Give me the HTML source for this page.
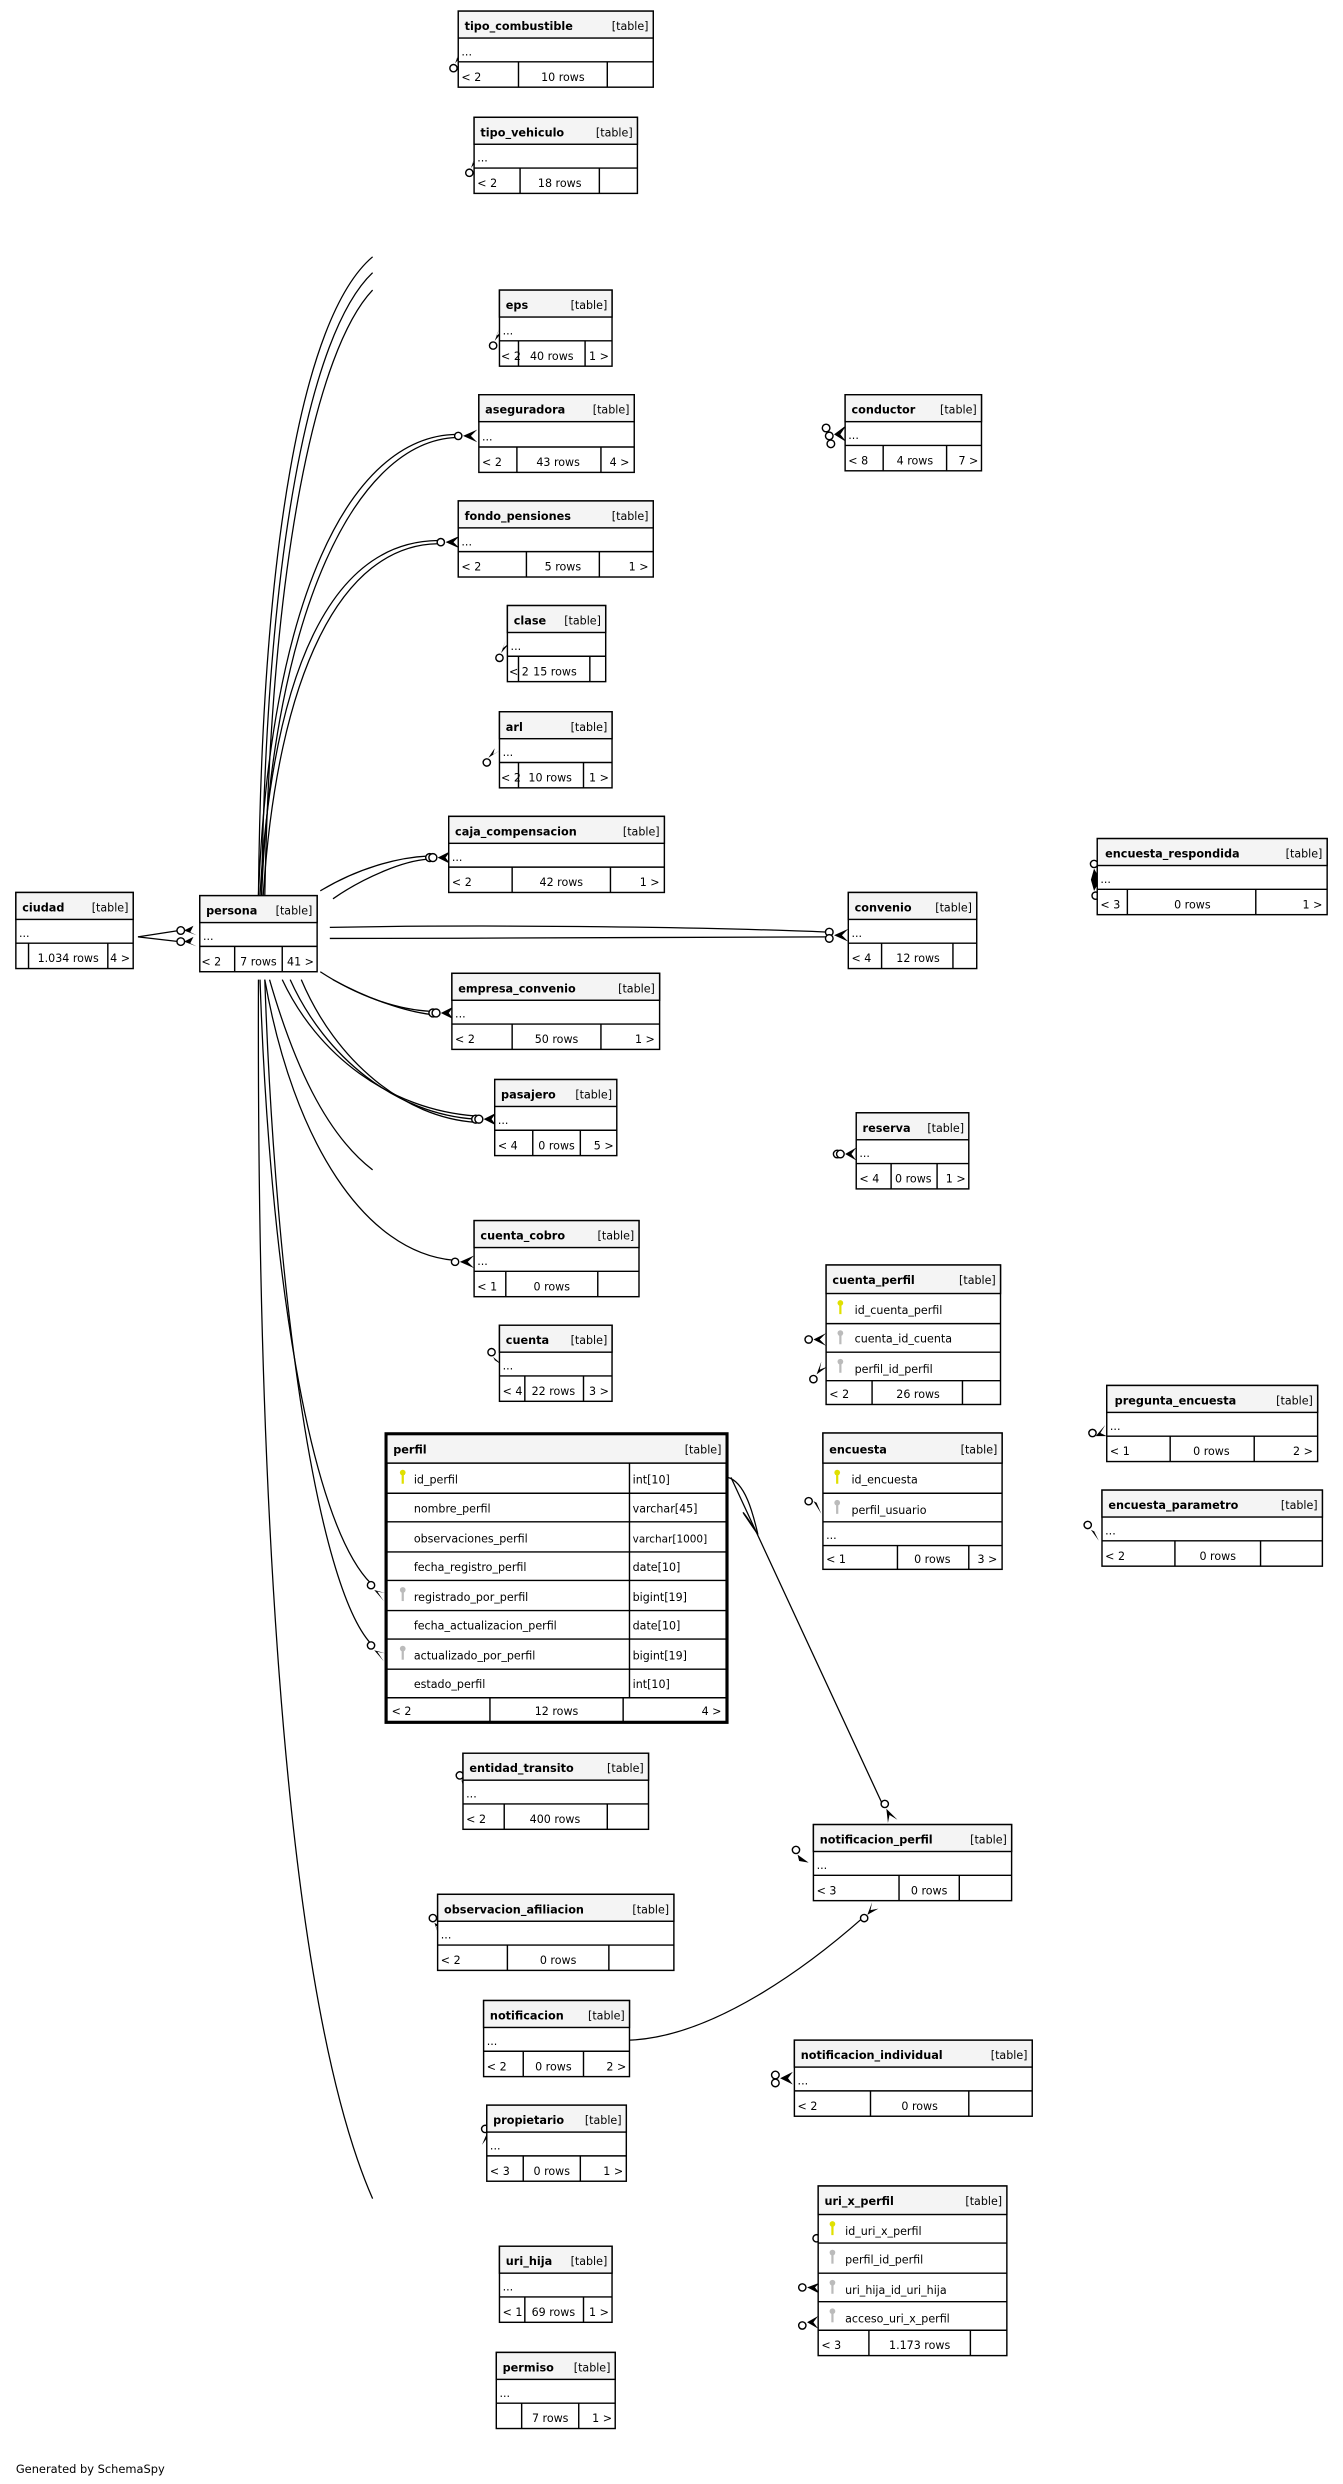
<!DOCTYPE html>
<html><head><meta charset="utf-8"><style>
html,body{margin:0;padding:0;background:#fff}
svg{display:block}
.b{fill:#fff;stroke:#000;stroke-width:0.9}
.h{fill:#f4f4f4;stroke:#000;stroke-width:0.9}
line{stroke:#000;stroke-width:0.9}
text{font-family:"DejaVu Sans","Liberation Sans",sans-serif;font-size:7px;fill:#000}
.n{font-weight:bold;font-size:7.1px}
.e{text-anchor:end}.m{text-anchor:middle}
.c{fill:none;stroke:#000;stroke-width:0.8}
.o{fill:#fff;stroke:#000;stroke-width:0.9}
</style></head><body>
<svg width="1343" height="2484" viewBox="0 0 847 1567" preserveAspectRatio="none" xmlns="http://www.w3.org/2000/svg">

<!-- connectors -->
<g class="c">
<path d="M163,565 C165,350 190,200 235,162"/>
<path d="M165,565 C168,350 195,210 235,172"/>
<path d="M167,565 C171,350 200,220 235,183"/>
<path d="M163,565 C170,380 220,275 288,274"/>
<path d="M165,565 C172,385 225,278 288,276"/>
<path d="M164,565 C172,420 210,342 276,341"/>
<path d="M166,565 C175,425 215,344 276,343"/>
<path d="M202,562 C225,548 250,541 270,540"/>
<path d="M210,567 C230,553 255,543 270,542"/>
<path d="M208,585 C320,583 450,585 522,588"/>
<path d="M208,592 C320,592 450,591 522,591"/>
<path d="M202,613 C225,628 250,637 272,638"/>
<path d="M210,618 C232,630 255,638 272,640"/>
<path d="M178,618 C200,665 245,700 300,704"/>
<path d="M183,618 C205,667 250,703 300,706"/>
<path d="M190,618 C212,670 255,705 300,708"/>
<path d="M170,618 C185,670 205,715 235,738"/>
<path d="M167,618 C185,720 230,790 286,795"/>
<path d="M164,618 C170,800 195,960 234,999"/>
<path d="M167,618 C174,820 200,1000 234,1037"/>
<path d="M163,618 C162,900 175,1250 235,1387"/>
<path d="M87,591 L113,587"/><path d="M87,591 L113,594"/>
<path d="M459,932 C470,935 475,955 478,968 C462,945 470,955 478,968"/>
<path d="M461,932 L556,1137"/>
<path d="M397,1287 C450,1285 510,1240 544,1210"/>
</g>

<!-- markers -->
<g>
<circle class="o" cx="286" cy="43" r="2.3"/><path d="M287,40 L290,32 L288,37 L293,33 Z"/>
<circle class="o" cx="296" cy="109" r="2.3"/><path d="M297,106 L300,98 L298,103 L303,99 Z"/>
<circle class="o" cx="311" cy="218" r="2.3"/><path d="M312,215 L315,207 L313,212 L318,208 Z"/>
<circle class="o" cx="289" cy="275" r="2.3"/><path d="M292,275 L301,271 L297,275 L301,279 Z"/>
<circle class="o" cx="278" cy="342" r="2.3"/><path d="M281,342 L290,338 L286,342 L290,346 Z"/>
<circle class="o" cx="315" cy="415" r="2.3"/><path d="M316,412 L319,404 L317,409 L322,405 Z"/>
<circle class="o" cx="307" cy="481" r="2.3"/><path d="M308,478 L312,472 L311,476 L316,473 Z"/>
<circle class="o" cx="271" cy="541" r="2.5"/><circle class="o" cx="273" cy="541" r="2.5"/><path d="M276,541 L284,537 L281,541 L284,545 Z"/>
<circle class="o" cx="273" cy="639" r="2.5"/><circle class="o" cx="275" cy="639" r="2.5"/><path d="M278,639 L286,635 L283,639 L286,643 Z"/>
<circle class="o" cx="300" cy="706" r="2.5"/><circle class="o" cx="302" cy="706" r="2.5"/><path d="M305,706 L313,702 L310,706 L313,710 Z"/>
<circle class="o" cx="114" cy="587" r="2.4"/><circle class="o" cx="114" cy="594" r="2.4"/><path d="M116,587 L122,584 L120,588 L124,590 Z"/><path d="M116,594 L122,591 L120,595 L124,597 Z"/>
<circle class="o" cx="523" cy="588" r="2.4"/><circle class="o" cx="523" cy="592" r="2.4"/><path d="M526,590 L535,586 L531,590 L535,594 Z"/>
<circle class="o" cx="521" cy="270" r="2.4"/><circle class="o" cx="523" cy="275" r="2.4"/><circle class="o" cx="524" cy="280" r="2.4"/><path d="M526,274 L534,268 L530,274 L534,279 Z"/>
<circle class="o" cx="690" cy="545" r="2.3"/><circle class="o" cx="691" cy="565" r="2.3"/><path d="M690,548 L694,555 L690,562 L688,555 Z"/>
<circle class="o" cx="528" cy="728" r="2.4"/><circle class="o" cx="530" cy="728" r="2.4"/><path d="M533,728 L540,724 L537,728 L540,732 Z"/>
<circle class="o" cx="287" cy="796" r="2.3"/><path d="M290,796 L299,792 L295,796 L299,800 Z"/>
<circle class="o" cx="310" cy="853" r="2.3"/><path d="M311,856 L314,862 L312,858 L318,862 Z"/>
<circle class="o" cx="510" cy="845" r="2.3"/><path d="M513,845 L521,841 L517,845 L521,849 Z"/>
<circle class="o" cx="513" cy="870" r="2.3"/><path d="M515,867 L518,859 L517,864 L522,862 Z"/>
<circle class="o" cx="510" cy="947" r="2.3"/><path d="M513,947 L519,950 L515,948 L518,955 Z"/>
<circle class="o" cx="689" cy="904" r="2.3"/><path d="M691,906 L697,899 L694,904 L698,906 Z"/>
<circle class="o" cx="686" cy="962" r="2.3"/><path d="M688,965 L694,968 L690,966 L693,972 Z"/>
<circle class="o" cx="234" cy="1000" r="2.3"/><path d="M236,1003 L243,1005 L238,1004 L242,1010 Z"/>
<circle class="o" cx="234" cy="1038" r="2.3"/><path d="M236,1041 L243,1043 L238,1042 L242,1048 Z"/>
<circle class="o" cx="290" cy="1120" r="2.3"/><path d="M291,1123 L293,1130 L292,1126 L297,1128 Z"/>
<circle class="o" cx="558" cy="1138" r="2.3"/><path d="M559,1141 L560,1150 L561,1145 L566,1148 Z"/>
<circle class="o" cx="502" cy="1167" r="2.3"/><path d="M503,1170 L505,1178 L504,1174 L510,1175 Z"/>
<circle class="o" cx="273" cy="1210" r="2.3"/><path d="M274,1213 L276,1219 L275,1215 L280,1216 Z"/>
<circle class="o" cx="545" cy="1210" r="2.3"/><path d="M547,1208 L550,1200 L549,1205 L554,1204 Z"/>
<circle class="o" cx="489" cy="1309" r="2.4"/><circle class="o" cx="489" cy="1314" r="2.4"/><path d="M492,1311 L500,1307 L497,1311 L500,1315 Z"/>
<circle class="o" cx="306" cy="1343" r="2.3"/><path d="M307,1346 L304,1353 L307,1349 L311,1352 Z"/>
<circle class="o" cx="515" cy="1412" r="2.3"/><path d="M516,1409 L516,1420 L517,1414 L521,1418 Z"/>
<circle class="o" cx="506" cy="1443" r="2.3"/><path d="M509,1443 L517,1440 L514,1443 L517,1447 Z"/>
<circle class="o" cx="506" cy="1467" r="2.3"/><path d="M509,1465 L516,1461 L513,1465 L516,1469 Z"/>
</g>

<!-- simple tables -->
<g>
<rect class="b" x="289" y="7" width="123" height="48"/><rect class="h" x="289" y="7" width="123" height="17"/><line x1="289" y1="39" x2="412" y2="39"/><line x1="327" y1="39" x2="327" y2="55"/><line x1="383" y1="39" x2="383" y2="55"/>
<text class="n" x="293" y="19">tipo_combustible</text><text class="e" x="409" y="19">[table]</text><text x="291" y="35">...</text><text x="291" y="51">&lt; 2</text><text class="m" x="355" y="51">10 rows</text>

<rect class="b" x="299" y="74" width="103" height="48"/><rect class="h" x="299" y="74" width="103" height="17"/><line x1="299" y1="106" x2="402" y2="106"/><line x1="328" y1="106" x2="328" y2="122"/><line x1="378" y1="106" x2="378" y2="122"/>
<text class="n" x="303" y="86">tipo_vehiculo</text><text class="e" x="399" y="86">[table]</text><text x="301" y="102">...</text><text x="301" y="118">&lt; 2</text><text class="m" x="353" y="118">18 rows</text>

<rect class="b" x="315" y="183" width="71" height="48"/><rect class="h" x="315" y="183" width="71" height="17"/><line x1="315" y1="215" x2="386" y2="215"/><line x1="327" y1="215" x2="327" y2="231"/><line x1="369" y1="215" x2="369" y2="231"/>
<text class="n" x="319" y="195">eps</text><text class="e" x="383" y="195">[table]</text><text x="317" y="211">...</text><text x="316" y="227">&lt; 2</text><text class="m" x="348" y="227">40 rows</text><text class="e" x="384" y="227">1 &gt;</text>

<rect class="b" x="302" y="249" width="98" height="49"/><rect class="h" x="302" y="249" width="98" height="17"/><line x1="302" y1="282" x2="400" y2="282"/><line x1="326" y1="282" x2="326" y2="298"/><line x1="379" y1="282" x2="379" y2="298"/>
<text class="n" x="306" y="261">aseguradora</text><text class="e" x="397" y="261">[table]</text><text x="304" y="278">...</text><text x="304" y="294">&lt; 2</text><text class="m" x="352" y="294">43 rows</text><text class="e" x="397" y="294">4 &gt;</text>

<rect class="b" x="289" y="316" width="123" height="48"/><rect class="h" x="289" y="316" width="123" height="17"/><line x1="289" y1="348" x2="412" y2="348"/><line x1="332" y1="348" x2="332" y2="364"/><line x1="378" y1="348" x2="378" y2="364"/>
<text class="n" x="293" y="328">fondo_pensiones</text><text class="e" x="409" y="328">[table]</text><text x="291" y="344">...</text><text x="291" y="360">&lt; 2</text><text class="m" x="355" y="360">5 rows</text><text class="e" x="409" y="360">1 &gt;</text>

<rect class="b" x="320" y="382" width="62" height="48"/><rect class="h" x="320" y="382" width="62" height="17"/><line x1="320" y1="414" x2="382" y2="414"/><line x1="327" y1="414" x2="327" y2="430"/><line x1="372" y1="414" x2="372" y2="430"/>
<text class="n" x="324" y="394">clase</text><text class="e" x="379" y="394">[table]</text><text x="322" y="410">...</text><text x="321" y="426">&lt; 2</text><text class="m" x="350" y="426">15 rows</text>

<rect class="b" x="315" y="449" width="71" height="48"/><rect class="h" x="315" y="449" width="71" height="17"/><line x1="315" y1="481" x2="386" y2="481"/><line x1="327" y1="481" x2="327" y2="497"/><line x1="368" y1="481" x2="368" y2="497"/>
<text class="n" x="319" y="461">arl</text><text class="e" x="383" y="461">[table]</text><text x="317" y="477">...</text><text x="316" y="493">&lt; 2</text><text class="m" x="347" y="493">10 rows</text><text class="e" x="384" y="493">1 &gt;</text>

<rect class="b" x="283" y="515" width="136" height="48"/><rect class="h" x="283" y="515" width="136" height="17"/><line x1="283" y1="547" x2="419" y2="547"/><line x1="323" y1="547" x2="323" y2="563"/><line x1="385" y1="547" x2="385" y2="563"/>
<text class="n" x="287" y="527">caja_compensacion</text><text class="e" x="416" y="527">[table]</text><text x="285" y="543">...</text><text x="285" y="559">&lt; 2</text><text class="m" x="354" y="559">42 rows</text><text class="e" x="416" y="559">1 &gt;</text>

<rect class="b" x="10" y="563" width="74" height="48"/><rect class="h" x="10" y="563" width="74" height="17"/><line x1="10" y1="595" x2="84" y2="595"/><line x1="18" y1="595" x2="18" y2="611"/><line x1="68" y1="595" x2="68" y2="611"/>
<text class="n" x="14" y="575">ciudad</text><text class="e" x="81" y="575">[table]</text><text x="12" y="591">...</text><text class="m" x="43" y="607">1.034 rows</text><text class="e" x="82" y="607">4 &gt;</text>

<rect class="b" x="126" y="565" width="74" height="48"/><rect class="h" x="126" y="565" width="74" height="17"/><line x1="126" y1="597" x2="200" y2="597"/><line x1="148" y1="597" x2="148" y2="613"/><line x1="178" y1="597" x2="178" y2="613"/>
<text class="n" x="130" y="577">persona</text><text class="e" x="197" y="577">[table]</text><text x="128" y="593">...</text><text x="127" y="609">&lt; 2</text><text class="m" x="163" y="609">7 rows</text><text class="e" x="198" y="609">41 &gt;</text>

<rect class="b" x="535" y="563" width="81" height="48"/><rect class="h" x="535" y="563" width="81" height="17"/><line x1="535" y1="595" x2="616" y2="595"/><line x1="556" y1="595" x2="556" y2="611"/><line x1="601" y1="595" x2="601" y2="611"/>
<text class="n" x="539" y="575">convenio</text><text class="e" x="613" y="575">[table]</text><text x="537" y="591">...</text><text x="537" y="607">&lt; 4</text><text class="m" x="579" y="607">12 rows</text>

<rect class="b" x="692" y="529" width="145" height="48"/><rect class="h" x="692" y="529" width="145" height="17"/><line x1="692" y1="561" x2="837" y2="561"/><line x1="711" y1="561" x2="711" y2="577"/><line x1="792" y1="561" x2="792" y2="577"/>
<text class="n" x="697" y="541">encuesta_respondida</text><text class="e" x="834" y="541">[table]</text><text x="694" y="557">...</text><text x="694" y="573">&lt; 3</text><text class="m" x="752" y="573">0 rows</text><text class="e" x="834" y="573">1 &gt;</text>

<rect class="b" x="285" y="614" width="131" height="48"/><rect class="h" x="285" y="614" width="131" height="17"/><line x1="285" y1="646" x2="416" y2="646"/><line x1="323" y1="646" x2="323" y2="662"/><line x1="379" y1="646" x2="379" y2="662"/>
<text class="n" x="289" y="626">empresa_convenio</text><text class="e" x="413" y="626">[table]</text><text x="287" y="642">...</text><text x="287" y="658">&lt; 2</text><text class="m" x="351" y="658">50 rows</text><text class="e" x="413" y="658">1 &gt;</text>

<rect class="b" x="312" y="681" width="77" height="48"/><rect class="h" x="312" y="681" width="77" height="17"/><line x1="312" y1="713" x2="389" y2="713"/><line x1="336" y1="713" x2="336" y2="729"/><line x1="366" y1="713" x2="366" y2="729"/>
<text class="n" x="316" y="693">pasajero</text><text class="e" x="386" y="693">[table]</text><text x="314" y="709">...</text><text x="314" y="725">&lt; 4</text><text class="m" x="351" y="725">0 rows</text><text class="e" x="387" y="725">5 &gt;</text>

<rect class="b" x="540" y="702" width="71" height="48"/><rect class="h" x="540" y="702" width="71" height="17"/><line x1="540" y1="734" x2="611" y2="734"/><line x1="562" y1="734" x2="562" y2="750"/><line x1="591" y1="734" x2="591" y2="750"/>
<text class="n" x="544" y="714">reserva</text><text class="e" x="608" y="714">[table]</text><text x="542" y="730">...</text><text x="542" y="746">&lt; 4</text><text class="m" x="576" y="746">0 rows</text><text class="e" x="609" y="746">1 &gt;</text>

<rect class="b" x="299" y="770" width="104" height="48"/><rect class="h" x="299" y="770" width="104" height="17"/><line x1="299" y1="802" x2="403" y2="802"/><line x1="319" y1="802" x2="319" y2="818"/><line x1="377" y1="802" x2="377" y2="818"/>
<text class="n" x="303" y="782">cuenta_cobro</text><text class="e" x="400" y="782">[table]</text><text x="301" y="798">...</text><text x="301" y="814">&lt; 1</text><text class="m" x="348" y="814">0 rows</text>

<rect class="b" x="315" y="836" width="71" height="48"/><rect class="h" x="315" y="836" width="71" height="17"/><line x1="315" y1="868" x2="386" y2="868"/><line x1="331" y1="868" x2="331" y2="884"/><line x1="368" y1="868" x2="368" y2="884"/>
<text class="n" x="319" y="848">cuenta</text><text class="e" x="383" y="848">[table]</text><text x="317" y="864">...</text><text x="317" y="880">&lt; 4</text><text class="m" x="349" y="880">22 rows</text><text class="e" x="384" y="880">3 &gt;</text>

<rect class="b" x="698" y="874" width="133" height="48"/><rect class="h" x="698" y="874" width="133" height="17"/><line x1="698" y1="906" x2="831" y2="906"/><line x1="738" y1="906" x2="738" y2="922"/><line x1="791" y1="906" x2="791" y2="922"/>
<text class="n" x="703" y="886">pregunta_encuesta</text><text class="e" x="828" y="886">[table]</text><text x="700" y="902">...</text><text x="700" y="918">&lt; 1</text><text class="m" x="764" y="918">0 rows</text><text class="e" x="828" y="918">2 &gt;</text>

<rect class="b" x="695" y="940" width="139" height="48"/><rect class="h" x="695" y="940" width="139" height="17"/><line x1="695" y1="972" x2="834" y2="972"/><line x1="741" y1="972" x2="741" y2="988"/><line x1="795" y1="972" x2="795" y2="988"/>
<text class="n" x="699" y="952">encuesta_parametro</text><text class="e" x="831" y="952">[table]</text><text x="697" y="968">...</text><text x="697" y="984">&lt; 2</text><text class="m" x="768" y="984">0 rows</text>

<rect class="b" x="292" y="1106" width="117" height="48"/><rect class="h" x="292" y="1106" width="117" height="17"/><line x1="292" y1="1138" x2="409" y2="1138"/><line x1="318" y1="1138" x2="318" y2="1154"/><line x1="383" y1="1138" x2="383" y2="1154"/>
<text class="n" x="296" y="1118">entidad_transito</text><text class="e" x="406" y="1118">[table]</text><text x="294" y="1134">...</text><text x="294" y="1150">&lt; 2</text><text class="m" x="350" y="1150">400 rows</text>

<rect class="b" x="513" y="1151" width="125" height="48"/><rect class="h" x="513" y="1151" width="125" height="17"/><line x1="513" y1="1183" x2="638" y2="1183"/><line x1="567" y1="1183" x2="567" y2="1199"/><line x1="605" y1="1183" x2="605" y2="1199"/>
<text class="n" x="517" y="1163">notificacion_perfil</text><text class="e" x="635" y="1163">[table]</text><text x="515" y="1179">...</text><text x="515" y="1195">&lt; 3</text><text class="m" x="586" y="1195">0 rows</text>

<rect class="b" x="276" y="1195" width="149" height="48"/><rect class="h" x="276" y="1195" width="149" height="17"/><line x1="276" y1="1227" x2="425" y2="1227"/><line x1="320" y1="1227" x2="320" y2="1243"/><line x1="384" y1="1227" x2="384" y2="1243"/>
<text class="n" x="280" y="1207">observacion_afiliacion</text><text class="e" x="422" y="1207">[table]</text><text x="278" y="1223">...</text><text x="278" y="1239">&lt; 2</text><text class="m" x="352" y="1239">0 rows</text>

<rect class="b" x="305" y="1262" width="92" height="48"/><rect class="h" x="305" y="1262" width="92" height="17"/><line x1="305" y1="1294" x2="397" y2="1294"/><line x1="330" y1="1294" x2="330" y2="1310"/><line x1="368" y1="1294" x2="368" y2="1310"/>
<text class="n" x="309" y="1274">notificacion</text><text class="e" x="394" y="1274">[table]</text><text x="307" y="1290">...</text><text x="307" y="1306">&lt; 2</text><text class="m" x="349" y="1306">0 rows</text><text class="e" x="395" y="1306">2 &gt;</text>

<rect class="b" x="501" y="1287" width="150" height="48"/><rect class="h" x="501" y="1287" width="150" height="17"/><line x1="501" y1="1319" x2="651" y2="1319"/><line x1="549" y1="1319" x2="549" y2="1335"/><line x1="611" y1="1319" x2="611" y2="1335"/>
<text class="n" x="505" y="1299">notificacion_individual</text><text class="e" x="648" y="1299">[table]</text><text x="503" y="1315">...</text><text x="503" y="1331">&lt; 2</text><text class="m" x="580" y="1331">0 rows</text>

<rect class="b" x="307" y="1328" width="88" height="48"/><rect class="h" x="307" y="1328" width="88" height="17"/><line x1="307" y1="1360" x2="395" y2="1360"/><line x1="330" y1="1360" x2="330" y2="1376"/><line x1="366" y1="1360" x2="366" y2="1376"/>
<text class="n" x="311" y="1340">propietario</text><text class="e" x="392" y="1340">[table]</text><text x="309" y="1356">...</text><text x="309" y="1372">&lt; 3</text><text class="m" x="348" y="1372">0 rows</text><text class="e" x="393" y="1372">1 &gt;</text>

<rect class="b" x="315" y="1417" width="71" height="48"/><rect class="h" x="315" y="1417" width="71" height="17"/><line x1="315" y1="1449" x2="386" y2="1449"/><line x1="331" y1="1449" x2="331" y2="1465"/><line x1="368" y1="1449" x2="368" y2="1465"/>
<text class="n" x="319" y="1429">uri_hija</text><text class="e" x="383" y="1429">[table]</text><text x="317" y="1445">...</text><text x="317" y="1461">&lt; 1</text><text class="m" x="349" y="1461">69 rows</text><text class="e" x="384" y="1461">1 &gt;</text>

<rect class="b" x="313" y="1484" width="75" height="48"/><rect class="h" x="313" y="1484" width="75" height="17"/><line x1="313" y1="1516" x2="388" y2="1516"/><line x1="329" y1="1516" x2="329" y2="1532"/><line x1="365" y1="1516" x2="365" y2="1532"/>
<text class="n" x="317" y="1496">permiso</text><text class="e" x="385" y="1496">[table]</text><text x="315" y="1512">...</text><text class="m" x="347" y="1528">7 rows</text><text class="e" x="386" y="1528">1 &gt;</text>

<rect class="b" x="533" y="249" width="86" height="48"/><rect class="h" x="533" y="249" width="86" height="17"/><line x1="533" y1="281" x2="619" y2="281"/><line x1="557" y1="281" x2="557" y2="297"/><line x1="597" y1="281" x2="597" y2="297"/>
<text class="n" x="537" y="261">conductor</text><text class="e" x="616" y="261">[table]</text><text x="535" y="277">...</text><text x="535" y="293">&lt; 8</text><text class="m" x="577" y="293">4 rows</text><text class="e" x="617" y="293">7 &gt;</text>
</g>

<!-- cuenta_perfil -->
<g>
<rect class="b" x="521" y="798" width="110" height="88"/><rect class="h" x="521" y="798" width="110" height="18"/>
<line x1="521" y1="835" x2="631" y2="835"/><line x1="521" y1="853" x2="631" y2="853"/><line x1="521" y1="871" x2="631" y2="871"/>
<line x1="550" y1="871" x2="550" y2="886"/><line x1="607" y1="871" x2="607" y2="886"/>
<text class="n" x="525" y="810">cuenta_perfil</text><text class="e" x="628" y="810">[table]</text>
<circle cx="530" cy="822" r="1.8" fill="#e0e000"/><rect x="529.3" y="822" width="1.4" height="7" fill="#e0e000"/>
<circle cx="530" cy="841" r="1.8" fill="#bbb"/><rect x="529.3" y="841" width="1.4" height="7" fill="#bbb"/>
<circle cx="530" cy="859" r="1.8" fill="#bbb"/><rect x="529.3" y="859" width="1.4" height="7" fill="#bbb"/>
<text x="539" y="829">id_cuenta_perfil</text><text x="539" y="847">cuenta_id_cuenta</text><text x="539" y="866">perfil_id_perfil</text>
<text x="523" y="882">&lt; 2</text><text class="m" x="579" y="882">26 rows</text>
</g>

<!-- encuesta -->
<g>
<rect class="b" x="519" y="904" width="113" height="86"/><rect class="h" x="519" y="904" width="113" height="19"/>
<line x1="519" y1="942" x2="632" y2="942"/><line x1="519" y1="960" x2="632" y2="960"/><line x1="519" y1="975" x2="632" y2="975"/>
<line x1="566" y1="975" x2="566" y2="990"/><line x1="611" y1="975" x2="611" y2="990"/>
<text class="n" x="523" y="917">encuesta</text><text class="e" x="629" y="917">[table]</text>
<circle cx="528" cy="929" r="1.8" fill="#e0e000"/><rect x="527.3" y="929" width="1.4" height="7" fill="#e0e000"/>
<circle cx="528" cy="948" r="1.8" fill="#bbb"/><rect x="527.3" y="948" width="1.4" height="7" fill="#bbb"/>
<text x="537" y="936">id_encuesta</text><text x="537" y="955">perfil_usuario</text>
<text x="521" y="971">...</text>
<text x="521" y="986">&lt; 1</text><text class="m" x="588" y="986">0 rows</text><text class="e" x="629" y="986">3 &gt;</text>
</g>

<!-- perfil -->
<g>
<rect x="243.5" y="904.5" width="215" height="182" fill="#fff" stroke="#000" stroke-width="2"/>
<rect x="244.5" y="905.5" width="213" height="17.5" fill="#f4f4f4"/>
<line x1="244" y1="923" x2="458" y2="923"/>
<line x1="244" y1="942" x2="458" y2="942"/><line x1="244" y1="960" x2="458" y2="960"/>
<line x1="244" y1="979" x2="458" y2="979"/><line x1="244" y1="997" x2="458" y2="997"/>
<line x1="244" y1="1016" x2="458" y2="1016"/><line x1="244" y1="1034" x2="458" y2="1034"/>
<line x1="244" y1="1053" x2="458" y2="1053"/><line x1="244" y1="1071" x2="458" y2="1071"/>
<line x1="397" y1="923" x2="397" y2="1071"/>
<line x1="309" y1="1071" x2="309" y2="1087"/><line x1="393" y1="1071" x2="393" y2="1087"/>
<text class="n" x="248" y="917">perfil</text><text class="e" x="455" y="917">[table]</text>
<circle cx="254" cy="929" r="1.8" fill="#e0e000"/><rect x="253.3" y="929" width="1.4" height="7" fill="#e0e000"/>
<circle cx="254" cy="1003" r="1.8" fill="#bbb"/><rect x="253.3" y="1003" width="1.4" height="7" fill="#bbb"/>
<circle cx="254" cy="1040" r="1.8" fill="#bbb"/><rect x="253.3" y="1040" width="1.4" height="7" fill="#bbb"/>
<text x="261" y="936">id_perfil</text><text x="399" y="936">int[10]</text>
<text x="261" y="954">nombre_perfil</text><text x="399" y="954">varchar[45]</text>
<text x="261" y="973">observaciones_perfil</text><text x="399" y="973" style="font-size:6.6px">varchar[1000]</text>
<text x="261" y="991">fecha_registro_perfil</text><text x="399" y="991">date[10]</text>
<text x="261" y="1010">registrado_por_perfil</text><text x="399" y="1010">bigint[19]</text>
<text x="261" y="1028">fecha_actualizacion_perfil</text><text x="399" y="1028">date[10]</text>
<text x="261" y="1047">actualizado_por_perfil</text><text x="399" y="1047">bigint[19]</text>
<text x="261" y="1065">estado_perfil</text><text x="399" y="1065">int[10]</text>
<text x="247" y="1082">&lt; 2</text><text class="m" x="351" y="1082">12 rows</text><text class="e" x="455" y="1082">4 &gt;</text>
</g>

<!-- uri_x_perfil -->
<g>
<rect class="b" x="516" y="1379" width="119" height="107"/><rect class="h" x="516" y="1379" width="119" height="18"/>
<line x1="516" y1="1415" x2="635" y2="1415"/><line x1="516" y1="1434" x2="635" y2="1434"/>
<line x1="516" y1="1452" x2="635" y2="1452"/><line x1="516" y1="1470" x2="635" y2="1470"/>
<line x1="548" y1="1470" x2="548" y2="1486"/><line x1="612" y1="1470" x2="612" y2="1486"/>
<text class="n" x="520" y="1391">uri_x_perfil</text><text class="e" x="632" y="1391">[table]</text>
<circle cx="525" cy="1403" r="1.8" fill="#e0e000"/><rect x="524.3" y="1403" width="1.4" height="7" fill="#e0e000"/>
<circle cx="525" cy="1421" r="1.8" fill="#bbb"/><rect x="524.3" y="1421" width="1.4" height="7" fill="#bbb"/>
<circle cx="525" cy="1440" r="1.8" fill="#bbb"/><rect x="524.3" y="1440" width="1.4" height="7" fill="#bbb"/>
<circle cx="525" cy="1458" r="1.8" fill="#bbb"/><rect x="524.3" y="1458" width="1.4" height="7" fill="#bbb"/>
<text x="533" y="1410">id_uri_x_perfil</text><text x="533" y="1428">perfil_id_perfil</text>
<text x="533" y="1447">uri_hija_id_uri_hija</text><text x="533" y="1465">acceso_uri_x_perfil</text>
<text x="518" y="1482">&lt; 3</text><text class="m" x="580" y="1482">1.173 rows</text>
</g>

<text x="10" y="1560" style="font-size:7.2px">Generated by SchemaSpy</text>
</svg>
</body></html>
